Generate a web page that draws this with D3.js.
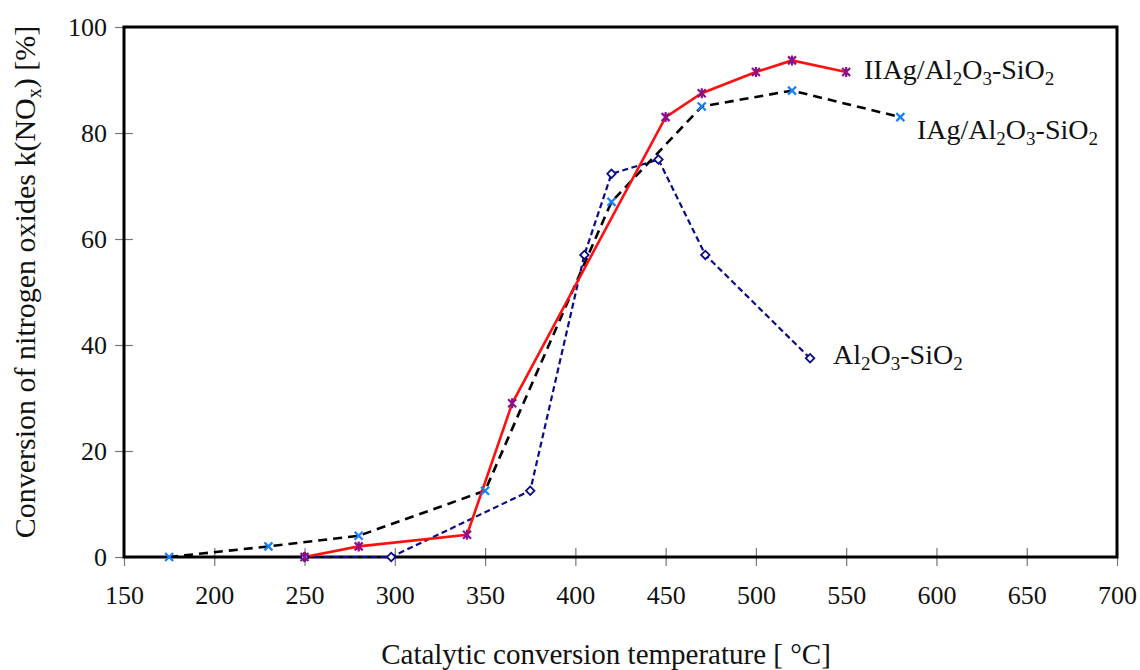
<!DOCTYPE html>
<html>
<head>
<meta charset="utf-8">
<script src="https://cdn.jsdelivr.net/npm/d3@7"></script>
<style>
  body { margin: 0; background: #fff; }
  text { font-family: "Liberation Serif", "DejaVu Serif", serif; fill: #111; }
</style>
</head>
<body>
<svg width="1140" height="670"></svg>
<script>
// data
var iagTemp = [175, 230, 280, 350, 420, 470, 520, 580];
var iagConv = [0, 2, 4, 12.5, 67, 85, 88, 83];

var iiagTemp = [250, 280, 340, 365, 450, 470, 500, 520, 550];
var iiagConv = [0, 2, 4.2, 29, 83, 87.5, 91.5, 93.7, 91.5];

var alsiTemp = [250, 298, 375, 405, 420, 446, 472, 530];
var alsiConv = [0, 0, 12.5, 57, 72.3, 75, 57, 37.5];

var xTicks = [150, 200, 250, 300, 350, 400, 450, 500, 550, 600, 650, 700];
var yTicks = [0, 20, 40, 60, 80, 100];

var svg = d3.select("svg"),
  margin = { top: 27, right: 23, bottom: 113, left: 124 },
  width = +svg.attr("width") - margin.left - margin.right,
  height = +svg.attr("height") - margin.top - margin.bottom,
  g = svg.append("g")
    .attr("transform", "translate(" + margin.left + "," + margin.top + ")");

var x = d3.scaleLinear().domain([150, 700]).range([0, width]),
  y = d3.scaleLinear().domain([0, 100]).range([height, 0]);

function zip(xs, ys) {
  return xs.map(function(t, i) { return { t: t, v: ys[i] }; });
}

var line = d3.line()
  .x(function(d) { return x(d.t); })
  .y(function(d) { return y(d.v); });

// axes (ticks cross the frame line)
var xAxis = g.append("g")
  .attr("transform", "translate(0," + height + ")")
  .call(d3.axisBottom(x).tickValues(xTicks).tickSize(9).tickPadding(20));
xAxis.selectAll(".tick line").attr("y1", -9).attr("stroke", "#777").attr("stroke-width", 1.2);
xAxis.selectAll(".tick text").style("font-size", "26px");
xAxis.select(".domain").remove();

var yAxis = g.append("g")
  .call(d3.axisLeft(y).tickValues(yTicks).tickSize(9).tickPadding(8));
yAxis.selectAll(".tick line").attr("x1", 9).attr("stroke", "#777").attr("stroke-width", 1.2);
yAxis.selectAll(".tick text").style("font-size", "26px");
yAxis.select(".domain").remove();

// frame
g.append("rect")
  .attr("x", 0).attr("y", 0)
  .attr("width", width).attr("height", height)
  .attr("fill", "none")
  .attr("stroke", "#000")
  .attr("stroke-width", 3);

// lines
var alsi = zip(alsiTemp, alsiConv),
  iag = zip(iagTemp, iagConv),
  iiag = zip(iiagTemp, iiagConv);

g.append("path").datum(alsi)
  .attr("d", line).attr("fill", "none")
  .attr("stroke", "#0a0a8c").attr("stroke-width", 2.2)
  .attr("stroke-dasharray", "6,3.5");

g.append("path").datum(iag)
  .attr("d", line).attr("fill", "none")
  .attr("stroke", "#000").attr("stroke-width", 2.6)
  .attr("stroke-dasharray", "9,6");

g.append("path").datum(iiag)
  .attr("d", line).attr("fill", "none")
  .attr("stroke", "#ff1010").attr("stroke-width", 2.6);

// markers
g.selectAll(".dia").data(alsi).enter().append("path")
  .attr("class", "dia")
  .attr("transform", function(d) { return "translate(" + x(d.t) + "," + y(d.v) + ") rotate(45)"; })
  .attr("d", "M-3,-3H3V3H-3Z")
  .attr("fill", "#fff").attr("stroke", "#0a0a8c").attr("stroke-width", 1.8);

g.selectAll(".xm").data(iag).enter().append("path")
  .attr("class", "xm")
  .attr("transform", function(d) { return "translate(" + x(d.t) + "," + y(d.v) + ")"; })
  .attr("d", "M-4,-4L4,4M-4,4L4,-4")
  .attr("stroke", "#1a7fff").attr("stroke-width", 2.2);

g.selectAll(".ast").data(iiag).enter().append("path")
  .attr("class", "ast")
  .attr("transform", function(d) { return "translate(" + x(d.t) + "," + y(d.v) + ")"; })
  .attr("d", "M-4,-4L4,4M-4,4L4,-4M0,-5V5")
  .attr("stroke", "#8b108b").attr("stroke-width", 2.2);

// series labels with subscripts
function chemLabel(px, py, parts) {
  var t = svg.append("text").attr("x", px).attr("y", py).style("font-size", "28px");
  parts.forEach(function(p) {
    var s = t.append("tspan").text(p[0]);
    if (p[1]) s.style("font-size", "19px").attr("dy", 6);
    else s.attr("dy", p[2] ? -6 : 0);
  });
}
chemLabel(864, 79, [["IIAg/Al"], ["2", 1], ["O", 0, 1], ["3", 1], ["-SiO", 0, 1], ["2", 1]]);
chemLabel(917, 139, [["IAg/Al"], ["2", 1], ["O", 0, 1], ["3", 1], ["-SiO", 0, 1], ["2", 1]]);
chemLabel(833, 364, [["Al"], ["2", 1], ["O", 0, 1], ["3", 1], ["-SiO", 0, 1], ["2", 1]]);

// axis titles
svg.append("text")
  .attr("x", 606).attr("y", 664)
  .attr("text-anchor", "middle")
  .style("font-size", "29px")
  .text("Catalytic conversion temperature [ °C]");

var yt = svg.append("text")
  .attr("transform", "translate(35," + 282 + ") rotate(-90)")
  .attr("text-anchor", "middle")
  .style("font-size", "30px");
yt.append("tspan").text("Conversion of nitrogen oxides k(NO");
yt.append("tspan").text("x").style("font-size", "20px").attr("dy", 6);
yt.append("tspan").text(") [%]").attr("dy", -6);
</script>
</body>
</html>
